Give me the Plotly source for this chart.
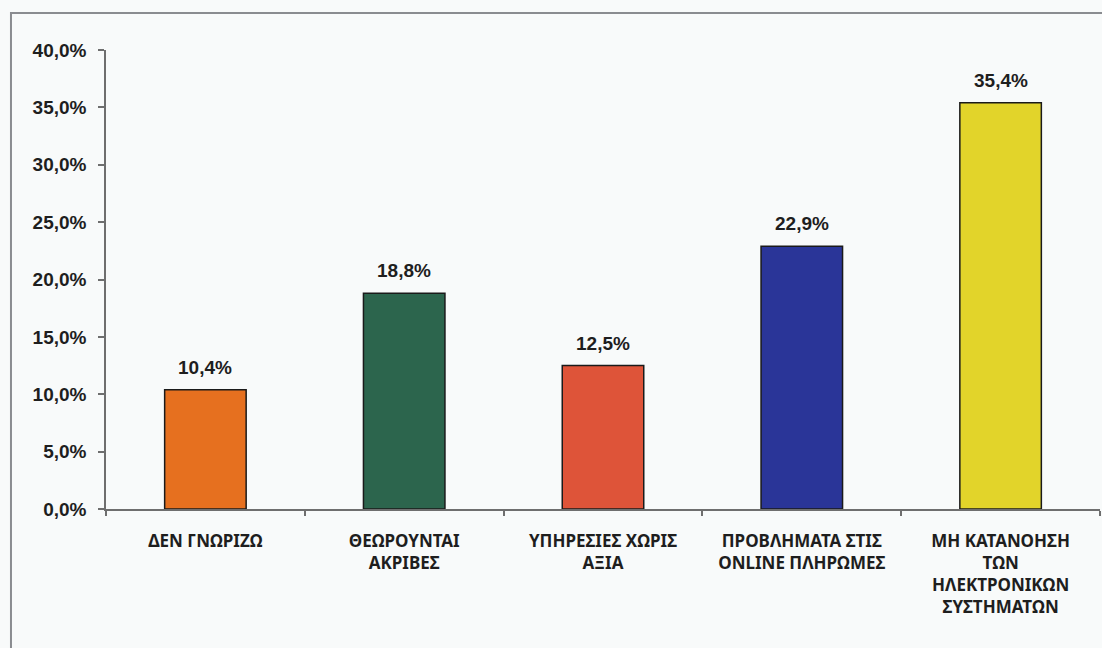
import plotly.graph_objects as go

categories = [
    "ΔΕΝ ΓΝΩΡΙΖΩ",
    "ΘΕΩΡΟΥΝΤΑΙ<br>ΑΚΡΙΒΕΣ",
    "ΥΠΗΡΕΣΙΕΣ ΧΩΡΙΣ<br>ΑΞΙΑ",
    "ΠΡΟΒΛΗΜΑΤΑ ΣΤΙΣ<br>ONLINE ΠΛΗΡΩΜΕΣ",
    "ΜΗ ΚΑΤΑΝΟΗΣΗ<br>ΤΩΝ<br>ΗΛΕΚΤΡΟΝΙΚΩΝ<br>ΣΥΣΤΗΜΑΤΩΝ",
]
values = [10.4, 18.8, 12.5, 22.9, 35.4]
bar_colors = ["#E6701F", "#2C654D", "#DE5439", "#2A3598", "#E2D42A"]
y_ticks = [0, 5, 10, 15, 20, 25, 30, 35, 40]


def pct(v):
    return f"{v:.1f}%".replace(".", ",")


FONT = "Liberation Sans, Arial, sans-serif"
CAT_FONT = "Noto Sans, DejaVu Sans, sans-serif"
TEXT = "#1e1e1e"

fig = go.Figure()
fig.add_trace(go.Bar(
    x=categories,
    y=values,
    marker=dict(color=bar_colors, line=dict(color="#1a1a1a", width=1.5)),
    hoverinfo="skip",
))

# value labels above each bar
for cat, v in zip(categories, values):
    fig.add_annotation(
        x=cat, y=v, xref="x", yref="y",
        text=f"<b>{pct(v)}</b>",
        showarrow=False, yanchor="bottom", yshift=10,
        font=dict(family=FONT, size=19, color=TEXT),
    )

# outer frame of the chart area (only left and top edges fall inside the page)
fig.add_shape(
    type="rect", xref="paper", yref="paper",
    x0=-0.0956, x1=1.05, y0=-0.5, y1=1.0806,
    line=dict(color="#8a8c90", width=2), fillcolor="rgba(0,0,0,0)",
    layer="below",
)

fig.update_layout(
    width=1102, height=648,
    margin=dict(l=106, r=2, t=50, b=139),
    paper_bgcolor="#f8fafa",
    plot_bgcolor="#f8fafa",
    showlegend=False,
    bargap=0.59,
    font=dict(family=FONT, color=TEXT),
    xaxis=dict(
        tickvals=categories,
        ticktext=[f"<b>{c.replace('<br>', '</b><br><b>')}</b>" for c in categories],
        showline=True, linecolor="#6e6e6e", linewidth=1.5,
        ticks="outside", tickson="boundaries", ticklen=5,
        tickcolor="#6e6e6e", tickwidth=1.5,
        showgrid=False, zeroline=False,
        tickfont=dict(family=CAT_FONT, size=17, color=TEXT, weight="bold"),
        ticklabelstandoff=16,
    ),
    yaxis=dict(
        range=[0, 40],
        tickvals=y_ticks,
        ticktext=[f"<b>{pct(t)}</b>" for t in y_ticks],
        showline=True, linecolor="#6e6e6e", linewidth=1.5,
        ticks="outside", ticklen=6, tickcolor="#6e6e6e", tickwidth=1.5,
        showgrid=False, zeroline=False,
        tickfont=dict(family=FONT, size=19, color=TEXT),
        ticklabelstandoff=8,
    ),
)

fig.write_html("out.html")
